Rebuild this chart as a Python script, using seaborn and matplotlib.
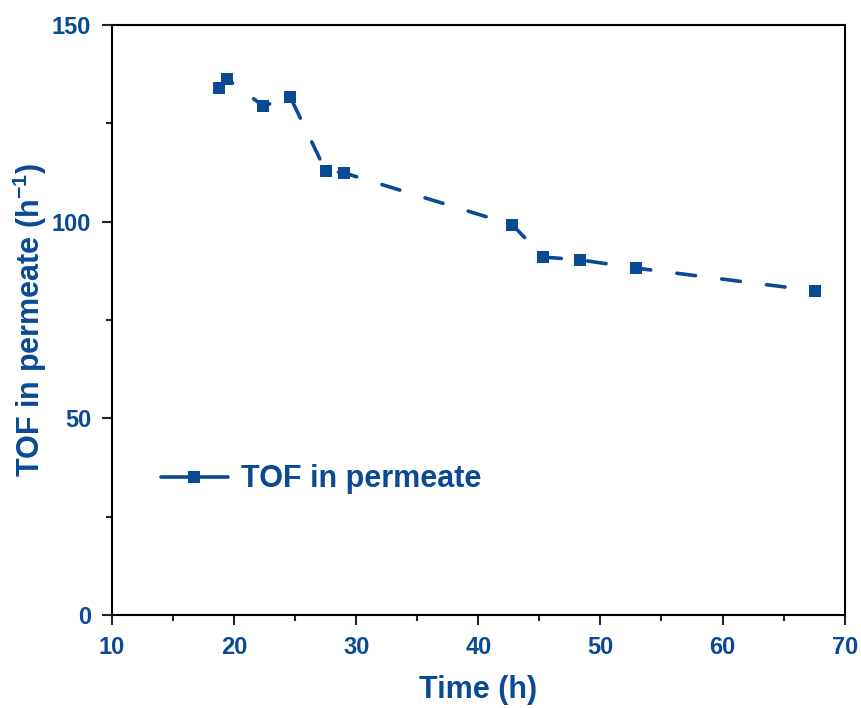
import matplotlib
matplotlib.use("Agg")
import matplotlib.pyplot as plt
from matplotlib.ticker import MultipleLocator
import seaborn as sns
import pandas as pd

# data
time_h = [18.8, 19.4, 22.4, 24.6, 27.5, 29.0, 42.8, 45.3, 48.3, 52.9, 67.6]
tof = [134.0, 136.3, 129.4, 131.7, 112.9, 112.4, 99.2, 91.0, 90.3, 88.2, 82.4]

df = pd.DataFrame({'Time (h)': time_h, 'TOF': tof})

blue = '#0A4A94'
sns.set_style('ticks')
plt.rcParams['font.family'] = ['Liberation Sans', 'DejaVu Sans']
plt.rcParams['font.weight'] = 'bold'
plt.rcParams['mathtext.fontset'] = 'custom'
plt.rcParams['mathtext.rm'] = 'Liberation Sans:bold'
plt.rcParams['mathtext.bf'] = 'Liberation Sans:bold'

fig = plt.figure(figsize=(8.61, 7.08), dpi=100)
ax = fig.add_axes([0.130, 0.1314, 0.851, 0.8333])

sns.lineplot(data=df, x='Time (h)', y='TOF', ax=ax, color=blue,
             marker='s', markersize=9, markeredgewidth=0,
             linewidth=2.6, linestyle=(0, (5.2, 7.3)), dash_capstyle='round',
             label='TOF in permeate')

ax.set_xlim(10, 70)
ax.set_ylim(0, 150)
ax.xaxis.set_major_locator(MultipleLocator(10))
ax.xaxis.set_minor_locator(MultipleLocator(5))
ax.yaxis.set_major_locator(MultipleLocator(50))
ax.yaxis.set_minor_locator(MultipleLocator(25))

for s in ax.spines.values():
    s.set_visible(True)
    s.set_linewidth(1.5)
    s.set_color('black')
ax.tick_params(which='major', direction='out', length=7, width=1.5, pad=8,
               labelsize=17, labelcolor=blue, top=False, right=False)
ax.tick_params(which='minor', direction='out', length=4, width=1.5,
               top=False, right=False)
for lab in ax.get_xticklabels() + ax.get_yticklabels():
    lab.set_fontweight('bold')

ax.set_xlabel('Time (h)', fontsize=22, fontweight='bold', color=blue, labelpad=12)
ax.set_ylabel('TOF in permeate (h$^{\\mathrm{-1}}$)', fontsize=22, fontweight='bold',
              color=blue, labelpad=2)

leg = ax.legend(loc='center left', bbox_to_anchor=(0.029, 0.23), frameon=False,
                handlelength=2.2, handletextpad=0.42,
                prop={'weight': 'bold', 'size': 22})
for t in leg.get_texts():
    t.set_color(blue)
for ln in leg.get_lines():
    ln.set_linestyle('-')

fig.savefig('out.png', dpi=100)
